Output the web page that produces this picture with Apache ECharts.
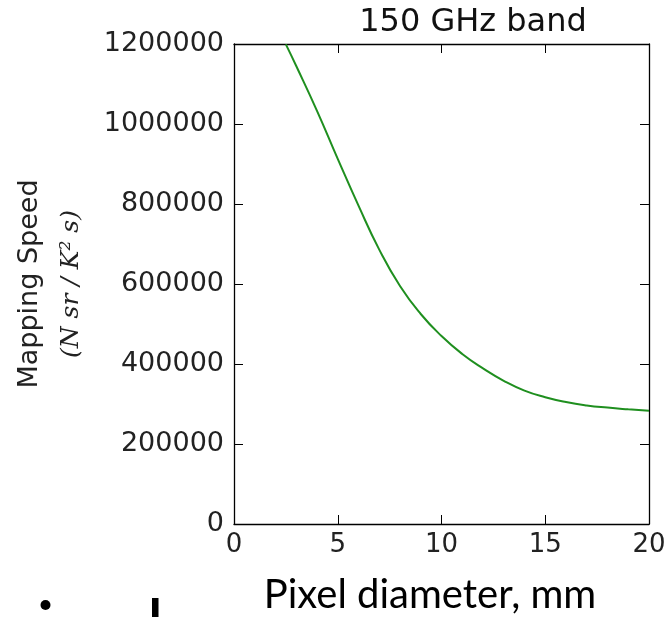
<!DOCTYPE html>
<html>
<head>
<meta charset="utf-8">
<script src="https://cdn.jsdelivr.net/npm/echarts@6/dist/echarts.min.js"></script>
<style>
  html, body { margin: 0; padding: 0; background: #fff; }
  #container { width: 672px; height: 617px; }
</style>
</head>
<body>
<div id="container"></div>
<script>
// pixel diameter (mm) and mapping speed
const diameters = [2.5, 3, 4, 5, 6, 7, 8, 9, 10, 11, 12, 13, 14, 15, 16, 17, 18, 19, 20]
const speeds = [1199000, 1145000, 1033000, 913000, 796000, 686000, 595000, 525000, 470000, 425000,
    389000, 358000, 333500, 317000, 305000, 296500, 291000, 286700, 283000]
const xTicks = [0, 5, 10, 15, 20]
const yTicks = [0, 200000, 400000, 600000, 800000, 1000000, 1200000]

let points = []
for (let i = 0; i < diameters.length; i++) {
    points.push([diameters[i], speeds[i]])
}

const tickFont = 'DejaVu Sans'
const axisLine = {show: true, onZero: false, lineStyle: {color: '#000', width: 1.3}}
const axisTick = {show: true, inside: true, length: 9, lineStyle: {color: '#000', width: 1}}

let option = {
    animation: false,
    backgroundColor: '#fff',
    title: {
        text: '150 GHz band',
        left: 468,
        top: 2,
        textAlign: 'center',
        textStyle: {fontFamily: tickFont, fontSize: 32, fontWeight: 'normal', color: '#111'}
    },
    grid: {left: 234, right: 23, top: 44, bottom: 93, outerBoundsMode: 'none', containLabel: false},
    xAxis: [{
        type: 'value',
        min: xTicks[0],
        max: xTicks[xTicks.length - 1],
        interval: 5,
        axisLine: axisLine,
        axisTick: axisTick,
        axisLabel: {fontFamily: tickFont, fontSize: 26, color: '#222', margin: 8, formatter: v => String(v)},
        splitLine: {show: false}
    }, {
        type: 'value',
        position: 'top',
        min: xTicks[0],
        max: xTicks[xTicks.length - 1],
        interval: 5,
        axisLine: axisLine,
        axisTick: axisTick,
        axisLabel: {show: false},
        splitLine: {show: false}
    }],
    yAxis: [{
        type: 'value',
        min: yTicks[0],
        max: yTicks[yTicks.length - 1],
        interval: 200000,
        axisLine: axisLine,
        axisTick: axisTick,
        axisLabel: {fontFamily: tickFont, fontSize: 27, color: '#222', margin: 10, formatter: v => String(v)},
        splitLine: {show: false},
        name: 'Mapping Speed\n{m|(N sr / K² s)}',
        nameLocation: 'middle',
        nameRotate: 90,
        nameGap: 141,
        nameTextStyle: {
            fontFamily: tickFont, fontSize: 27, color: '#222', lineHeight: 42,
            rich: {
                m: {fontFamily: 'DejaVu Serif', fontStyle: 'italic', fontSize: 25, color: '#222', lineHeight: 42}
            }
        }
    }, {
        type: 'value',
        position: 'right',
        min: yTicks[0],
        max: yTicks[yTicks.length - 1],
        interval: 200000,
        axisLine: axisLine,
        axisTick: axisTick,
        axisLabel: {show: false},
        splitLine: {show: false}
    }],
    graphic: [
        {
            type: 'text', x: 430, y: 575,
            style: {text: 'Pixel diameter, mm', fontFamily: 'Lato', fontSize: 40, fill: '#000', textAlign: 'center'}
        },
        {type: 'circle', shape: {cx: 45.5, cy: 605, r: 5}, style: {fill: '#000'}},
        {type: 'rect', shape: {x: 152, y: 598, width: 6.5, height: 19}, style: {fill: '#000'}}
    ],
    series: [{
        type: 'line',
        data: points,
        smooth: true,
        symbol: 'none',
        lineStyle: {color: '#1f8f1f', width: 2}
    }]
}

let myChart = echarts.init(document.getElementById('container'))
myChart.setOption(option)
</script>
</body>
</html>
